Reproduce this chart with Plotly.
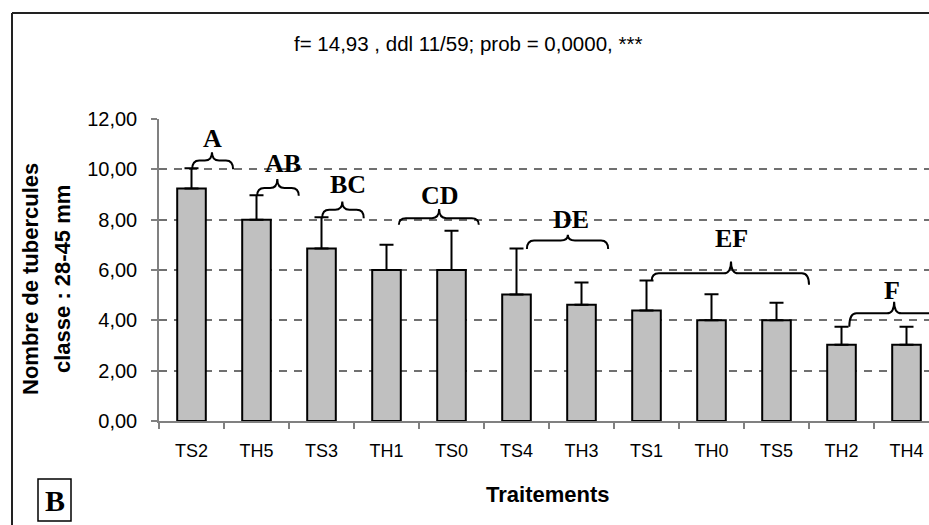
import plotly.graph_objects as go

# Treatments and mean tuber counts (class 28-45 mm) with their upper error
treatments = ["TS2", "TH5", "TS3", "TH1", "TS0", "TS4", "TH3", "TS1", "TH0", "TS5", "TH2", "TH4"]
means = [9.24, 8.0, 6.85, 6.0, 6.0, 5.03, 4.62, 4.39, 4.0, 4.0, 3.03, 3.03]
errors = [0.8, 0.97, 1.25, 1.0, 1.56, 1.82, 0.88, 1.19, 1.04, 0.7, 0.72, 0.72]

# Homogeneous groups: letter, brace start/end/tip (category units), brace levels
group_letters = ["A", "AB", "BC", "CD", "DE", "EF", "F"]
brace_x0 = [0.01, 1.01, 2.01, 3.19, 5.16, 7.08, 10.12]
brace_x1 = [0.64, 1.65, 2.65, 4.42, 6.41, 9.50, 11.50]
brace_xm = [0.315, 1.32, 2.32, 3.81, 5.79, 8.30, 10.81]
brace_line = [10.35, 9.26, 8.39, 8.06, 7.17, 5.87, 4.28]
brace_end_left = [10.0, 8.95, 8.06, 7.80, 6.83, 5.57, 3.75]
brace_end_right = [10.0, 8.95, 8.06, 7.80, 6.83, 5.41, 3.75]
brace_tip = [10.68, 9.62, 8.72, 8.42, 7.40, 6.34, 4.74]
letter_x = [0.33, 1.40, 2.40, 3.82, 5.84, 8.30, 10.77]
letter_y = [11.24, 10.24, 9.38, 8.98, 8.01, 7.26, 5.20]

y_ticks = [0, 2, 4, 6, 8, 10, 12]

W, H = 929, 525
ML, MR, MT, MB = 159, 0, 119, 104
plot_w = W - ML - MR
plot_h = H - MT - MB
cat_px = 65.0
x_range = [-0.5, -0.5 + plot_w / cat_px]

SANS = "Liberation Sans, Arial, sans-serif"
SERIF = "Liberation Serif, Times New Roman, serif"


def px_x(p):
    return (p - ML) / plot_w


def px_y(p):
    return (H - MB - p) / plot_h


positions = list(range(len(treatments)))

fig = go.Figure()
fig.add_trace(go.Bar(
    x=positions,
    y=means,
    width=0.44,
    marker=dict(color="#c0c0c0", line=dict(color="black", width=2)),
    error_y=dict(type="data", array=errors, arrayminus=[0] * len(errors),
                 symmetric=False, color="black", thickness=2, width=7),
    showlegend=False,
))

shapes = []
dx = 0.11
for x0, x1, xm, yl, yel, yer, yt in zip(brace_x0, brace_x1, brace_xm, brace_line,
                                        brace_end_left, brace_end_right, brace_tip):
    path = (f"M {x0},{yel} Q {x0},{yl} {x0 + dx},{yl} "
            f"L {xm - dx},{yl} Q {xm},{yl} {xm},{yt} "
            f"Q {xm},{yl} {xm + dx},{yl} "
            f"L {x1 - dx},{yl} Q {x1},{yl} {x1},{yer}")
    shapes.append(dict(type="path", xref="x", yref="y", path=path,
                       line=dict(color="black", width=2)))

# outer frame (top and left edges visible)
shapes.append(dict(type="line", xref="paper", yref="paper",
                   x0=px_x(12), x1=px_x(940), y0=px_y(13), y1=px_y(13),
                   line=dict(color="#222222", width=2)))
shapes.append(dict(type="line", xref="paper", yref="paper",
                   x0=px_x(12), x1=px_x(12), y0=px_y(13), y1=px_y(540),
                   line=dict(color="#222222", width=2)))
# panel letter box
shapes.append(dict(type="rect", xref="paper", yref="paper",
                   x0=px_x(38), x1=px_x(71), y0=px_y(521), y1=px_y(479),
                   line=dict(color="black", width=1.5), fillcolor="white", layer="below"))


def note(x, y, text, size, family=SANS, angle=0, xref="paper", yref="paper"):
    return dict(x=x, y=y, xref=xref, yref=yref, text=text, textangle=angle,
                showarrow=False, xanchor="center", yanchor="middle",
                font=dict(family=family, size=size, color="black"))


annotations = []
for t, x, y in zip(group_letters, letter_x, letter_y):
    annotations.append(note(x, y, f"<b>{t}</b>", 26, SERIF, xref="x", yref="y"))

annotations.append(note(px_x(468), px_y(44), "f= 14,93 , ddl 11/59; prob = 0,0000, ***", 20.5))
annotations.append(note(px_x(30), px_y(279), "<b>Nombre de tubercules</b>", 22, angle=-90))
annotations.append(note(px_x(62), px_y(279), "<b>classe : 28-45 mm</b>", 22, angle=-90))
annotations.append(note(px_x(548), px_y(494), "<b>Traitements</b>", 22))
annotations.append(note(px_x(54.5), px_y(500), "<b>B</b>", 30, SERIF))

fig.update_layout(
    width=W, height=H,
    margin=dict(l=ML, r=MR, t=MT, b=MB, pad=0),
    paper_bgcolor="white",
    plot_bgcolor="white",
    separators=", ",
    shapes=shapes,
    annotations=annotations,
    xaxis=dict(
        range=x_range,
        tickmode="array",
        tickvals=positions,
        ticktext=treatments,
        ticks="",
        showgrid=False,
        zeroline=False,
        showline=True,
        linecolor="#808080",
        linewidth=1.5,
        ticklabelstandoff=13,
        tickfont=dict(family=SANS, size=18, color="black"),
        minor=dict(tickmode="array", tickvals=[p - 0.5 for p in positions] + [len(positions) - 0.5],
                   ticks="outside", ticklen=6, tickcolor="#808080", tickwidth=1.5,
                   showgrid=False),
    ),
    yaxis=dict(
        range=[0, 12],
        tickmode="array",
        tickvals=y_ticks,
        tickformat=".2f",
        ticks="outside",
        ticklen=6,
        tickwidth=1.5,
        tickcolor="#808080",
        showline=True,
        linecolor="#808080",
        linewidth=1.5,
        showgrid=True,
        gridcolor="#707070",
        gridwidth=1.5,
        griddash="8px,7px",
        zeroline=False,
        ticklabelstandoff=10,
        tickfont=dict(family=SANS, size=20, color="black"),
    ),
)

fig.write_html("out.html")
